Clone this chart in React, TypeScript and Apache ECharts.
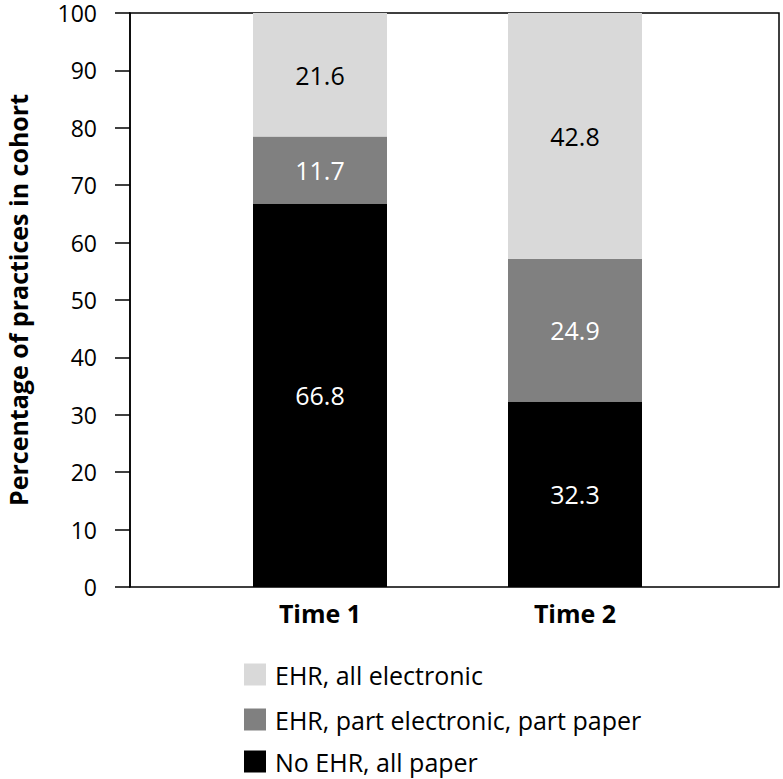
import React, { useEffect, useRef } from "react";
import * as echarts from "echarts";

const categories = ["Time 1", "Time 2"];
const allElectronic = [21.6, 42.8];
const partElectronic = [11.7, 24.9];
const allPaper = [66.8, 32.3];
const yTicks = { min: 0, max: 100, interval: 10 };
const legendNames = ["EHR, all electronic", "EHR, part electronic, part paper", "No EHR, all paper"];

const FONT = "'Open Sans', 'Noto Sans', sans-serif";

export default function App() {
  const ref = useRef<HTMLDivElement>(null);
  useEffect(() => {
    if (!ref.current) return;
    const chart = echarts.init(ref.current, undefined, { renderer: "svg" });
    const labelStyle = (color: string) => ({
      show: true,
      position: "inside" as const,
      color,
      fontSize: 25,
      fontFamily: FONT,
      formatter: (p: any) => p.value.toFixed(1),
    });
    const legendTops = [662, 707, 749];
    chart.setOption({
      animation: false,
      textStyle: { fontFamily: FONT },
      grid: [
        { left: 130, right: 4, top: 13, bottom: 192, containLabel: false, outerBoundsMode: "none", show: true, borderColor: "#000", borderWidth: 1.5, backgroundColor: "transparent" },
        { left: 192.5, width: 510, top: 13, bottom: 192, containLabel: false, outerBoundsMode: "none" },
      ],
      xAxis: [
        { gridIndex: 0, type: "value", min: 0, max: 1, show: false },
        {
          gridIndex: 1,
          type: "category",
          data: categories,
          axisLine: { show: false },
          axisTick: { show: false },
          axisLabel: { color: "#000", fontSize: 25, fontWeight: "bold", fontFamily: FONT, margin: 13 },
        },
      ],
      yAxis: [
        {
          gridIndex: 0,
          type: "value",
          min: yTicks.min,
          max: yTicks.max,
          interval: yTicks.interval,
          name: "Percentage of practices in cohort",
          nameLocation: "middle",
          nameGap: 100,
          nameMoveOverlap: false,
          nameTextStyle: { color: "#000", fontSize: 25, fontWeight: "bold", fontFamily: FONT },
          axisLine: { show: true, lineStyle: { color: "#000", width: 1.5 } },
          axisTick: { show: true, length: 15, lineStyle: { color: "#000", width: 1.5 } },
          axisLabel: { color: "#000", fontSize: 23, lineHeight: 20, fontFamily: FONT, margin: 33 },
          splitLine: { show: false },
        },
        { gridIndex: 1, type: "value", min: yTicks.min, max: yTicks.max, show: false },
      ],
      legend: legendNames.map((n, i) => ({
        orient: "vertical",
        left: 244,
        top: legendTops[i],
        padding: 0,
        itemWidth: 22,
        itemHeight: 22,
        icon: "rect",
        data: [n],
        textStyle: { color: "#000", fontSize: 25, fontFamily: FONT, padding: [0, 0, 0, 4] },
      })),
      series: [
        {
          name: "No EHR, all paper",
          type: "bar",
          stack: "s",
          xAxisIndex: 1,
          yAxisIndex: 1,
          barWidth: 134,
          data: allPaper,
          itemStyle: { color: "#000000" },
          label: labelStyle("#ffffff"),
        },
        {
          name: "EHR, part electronic, part paper",
          type: "bar",
          stack: "s",
          xAxisIndex: 1,
          yAxisIndex: 1,
          barWidth: 134,
          data: partElectronic,
          itemStyle: { color: "#808080" },
          label: labelStyle("#ffffff"),
        },
        {
          name: "EHR, all electronic",
          type: "bar",
          stack: "s",
          xAxisIndex: 1,
          yAxisIndex: 1,
          barWidth: 134,
          data: allElectronic,
          itemStyle: { color: "#d9d9d9" },
          label: labelStyle("#000000"),
        },
      ],
    });
    return () => chart.dispose();
  }, []);
  return <div ref={ref} style={{ width: 783, height: 779, position: "absolute", left: 0, top: 0 }} />;
}
